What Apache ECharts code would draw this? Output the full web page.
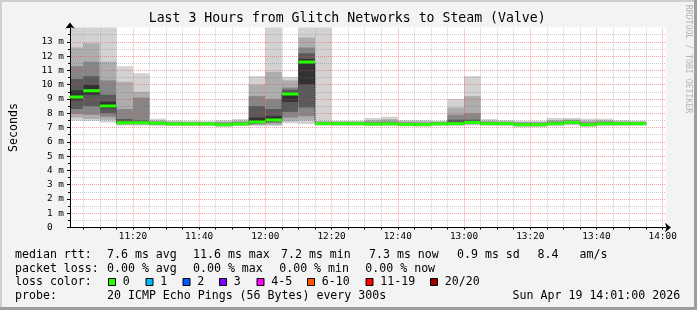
<!DOCTYPE html>
<html><head><meta charset="utf-8">
<script src="https://cdn.jsdelivr.net/npm/echarts@6/dist/echarts.min.js"></script>
<style>html,body{margin:0;padding:0;background:#f3f3f3}#c{width:697px;height:310px}</style>
</head><body><div id="c"></div>
<script>
// ---------------- DATA ----------------
const titleText = 'Last 3 Hours from Glitch Networks to Steam (Valve)';
const viewStart = '11:01';
const viewEnd = '14:01';
const stepMinutes = 5;
const slotStart = ['11:00','11:05','11:10','11:15','11:20','11:25','11:30','11:35','11:40','11:45','11:50','11:55',
  '12:00','12:05','12:10','12:15','12:20','12:25','12:30','12:35','12:40','12:45','12:50','12:55',
  '13:00','13:05','13:10','13:15','13:20','13:25','13:30','13:35','13:40','13:45','13:50'];
const medianRtt = [9.14,9.58,8.51,7.34,7.34,7.30,7.25,7.25,7.25,7.20,7.25,7.39,
  7.53,9.35,11.59,7.27,7.27,7.27,7.24,7.26,7.22,7.21,7.26,7.27,
  7.36,7.27,7.27,7.20,7.20,7.27,7.36,7.20,7.27,7.27,7.27];
const lossCount = [0,0,0,0,0,0,0,0,0,0,0,0,0,0,0,0,0,0,0,0,0,0,0,0,0,0,0,0,0,0,0,0,0,0,0];
// sorted ping rtt (ms) of the 20 pings, selected ranks
const pingP1  = [7.48,7.45,7.35,7.15,7.15,7.12,7.10,7.10,7.10,7.05,7.10,7.10,7.10,7.30,7.25,7.15,7.12,7.12,7.10,7.10,7.08,7.06,7.10,7.10,7.15,7.12,7.10,7.02,7.02,7.10,7.15,7.05,7.10,7.10,7.12];
const pingP3  = [7.70,7.60,7.55,7.20,7.20,7.17,7.15,7.15,7.15,7.10,7.15,7.18,7.20,7.45,7.50,7.20,7.18,7.18,7.16,7.17,7.14,7.12,7.17,7.18,7.22,7.18,7.18,7.10,7.10,7.17,7.22,7.10,7.17,7.18,7.18];
const pingP5  = [7.95,7.90,7.75,7.24,7.24,7.21,7.18,7.18,7.18,7.13,7.18,7.24,7.30,7.70,7.80,7.22,7.21,7.21,7.19,7.20,7.17,7.15,7.20,7.21,7.27,7.21,7.21,7.14,7.14,7.21,7.27,7.14,7.21,7.21,7.21];
const pingP7  = [8.30,8.50,8.00,7.28,7.28,7.25,7.21,7.21,7.21,7.16,7.21,7.30,7.40,8.10,8.40,7.24,7.24,7.24,7.21,7.23,7.19,7.18,7.23,7.24,7.31,7.24,7.24,7.17,7.17,7.24,7.31,7.17,7.24,7.24,7.24];
const pingP9  = [8.90,9.30,8.35,7.32,7.32,7.28,7.23,7.23,7.23,7.18,7.23,7.35,7.48,8.80,10.00,7.26,7.25,7.25,7.22,7.24,7.20,7.19,7.24,7.25,7.34,7.25,7.25,7.18,7.18,7.25,7.34,7.18,7.25,7.25,7.25];
const pingP12 = [9.60,10.00,8.80,7.38,7.36,7.33,7.28,7.28,7.28,7.25,7.28,7.70,7.80,9.45,11.80,7.30,7.30,7.30,7.27,7.29,7.25,7.24,7.29,7.30,7.40,7.30,7.30,7.23,7.23,7.30,7.39,7.23,7.30,7.30,7.30];
const pingP14 = [10.40,10.60,9.30,7.60,7.50,7.37,7.31,7.31,7.31,7.30,7.32,8.50,8.30,9.65,12.20,7.35,7.34,7.34,7.32,7.34,7.30,7.29,7.33,7.55,7.55,7.34,7.34,7.28,7.28,7.35,7.43,7.28,7.35,7.34,7.34];
const pingP16 = [11.30,11.60,10.30,8.30,9.10,7.42,7.35,7.34,7.34,7.35,7.38,9.20,9.00,9.80,12.60,7.38,7.38,7.38,7.40,7.42,7.35,7.34,7.38,7.90,8.00,7.40,7.38,7.33,7.33,7.42,7.50,7.36,7.42,7.38,7.38];
const pingP18 = [12.60,12.90,11.60,10.20,9.50,7.50,7.42,7.40,7.38,7.42,7.48,10.00,10.90,10.30,13.30,7.45,7.43,7.43,7.52,7.58,7.44,7.43,7.42,8.40,9.20,7.48,7.44,7.40,7.40,7.52,7.56,7.48,7.50,7.44,7.42];
const pingP20 = [14.50,14.20,14.00,11.30,10.80,7.62,7.50,7.48,7.45,7.52,7.60,10.60,14.30,10.55,14.10,14.50,7.48,7.48,7.67,7.76,7.53,7.53,7.48,9.00,10.60,7.60,7.53,7.48,7.48,7.67,7.67,7.62,7.62,7.53,7.48];
const xTickLabels = ['11:20','11:40','12:00','12:20','12:40','13:00','13:20','13:40','14:00'];
const yMin = 0, yMax = 14, yStep = 1;
const yAxisName = 'Seconds';
const lossLabels = ['0','1','2','3','4-5','6-10','11-19','20/20'];
const lossColors = ['#26ff00','#00b8ff','#0059ff','#7e00ff','#ff00ff','#ff5500','#ff0000','#a00000'];
const lossUpper = [0,1,2,3,5,10,19,20];
const rowMedian = ['median rtt:','7.6 ms avg','11.6 ms max','7.2 ms min','7.3 ms now','0.9 ms sd','8.4','am/s'];
const rowLoss = ['packet loss:','0.00 % avg','0.00 % max','0.00 % min','0.00 % now'];
const rowLossColor = 'loss color:';
const rowProbe = ['probe:','20 ICMP Echo Pings (56 Bytes) every 300s','Sun Apr 19 14:01:00 2026'];
const watermark = 'RRDTOOL / TOBI OETIKER';

// ---------------- LAYOUT / STYLE ----------------
const FONT = '"DejaVu Sans Mono", monospace';
const bandColors = ['#d2d2d2','#adadad','#868686','#5a5a5a','#323232'];
const majorGrid = 'rgba(235,70,70,0.5)';
const minorGrid = 'rgba(110,110,110,0.35)';
const toMin = s => { const p = s.split(':').map(Number); return p[0]*60 + p[1]; };
const fmtMin = v => { const h = Math.floor(v/60), m = v%60; return h + ':' + (m<10?'0':'') + m; };
const xMin = toMin(viewStart), xMax = toMin(viewEnd);

const lossColorOf = n => { for (let i=0;i<lossUpper.length;i++) if (n <= lossUpper[i]) return lossColors[i]; return lossColors[lossColors.length-1]; };

const smokeData = slotStart.map((s,i) => [toMin(s), toMin(s)+stepMinutes,
  pingP1[i],pingP3[i],pingP5[i],pingP7[i],pingP9[i],pingP12[i],pingP14[i],pingP16[i],pingP18[i],pingP20[i]]);
const medianData = slotStart.map((s,i) => [toMin(s), toMin(s)+stepMinutes, medianRtt[i], lossCount[i]]);
const stepData = slotStart.map((s,i) => [toMin(s), medianRtt[i]]);
stepData.push([toMin(slotStart[slotStart.length-1]) + stepMinutes, medianRtt[medianRtt.length-1]]);

const gridMarks = [];
for (let t = Math.ceil(xMin/5)*5; t <= xMax; t += 5) {
  gridMarks.push({xAxis: t, lineStyle: {color: (t % 20 === 0) ? majorGrid : minorGrid, type: [1,1], width: 1}});
}
const minorTickVals = [];
for (let t = Math.ceil(xMin/5)*5; t <= xMax; t += 5) minorTickVals.push(t);

function clipTo(rect, cs) {
  return echarts.graphic.clipRectByRect(rect, {x: cs.x, y: cs.y, width: cs.width, height: cs.height});
}
function renderSmoke(params, api) {
  const cs = params.coordSys;
  const x0 = api.value(0), x1 = api.value(1);
  const children = [];
  for (let k = 0; k < 5; k++) {
    const lo = api.value(2+k), hi = api.value(11-k);
    const a = api.coord([x0, hi]), b = api.coord([x1, lo]);
    const r = clipTo({x: a[0], y: a[1], width: b[0]-a[0], height: b[1]-a[1]}, cs);
    if (r) children.push({type: 'rect', shape: r, style: {fill: bandColors[k]}});
  }
  return {type: 'group', children};
}
function renderMedian(params, api) {
  const cs = params.coordSys;
  const a = api.coord([api.value(0), api.value(2)]), b = api.coord([api.value(1), api.value(2)]);
  const x0 = Math.max(a[0], cs.x), x1 = Math.min(b[0], cs.x + cs.width);
  return {type: 'line', shape: {x1: x0, y1: a[1], x2: x1, y2: b[1]},
    style: {stroke: lossColorOf(api.value(3)), lineWidth: 3}};
}

// ---------------- GRAPHICS (frame, title, legend) ----------------
const g = [];
g.push({type:'rect', silent:true, shape:{x:0,y:0,width:697,height:2}, style:{fill:'#cfcfcf'}});
g.push({type:'rect', silent:true, shape:{x:0,y:0,width:2,height:310}, style:{fill:'#cfcfcf'}});
g.push({type:'rect', silent:true, shape:{x:0,y:307,width:697,height:3}, style:{fill:'#9e9e9e'}});
g.push({type:'rect', silent:true, shape:{x:694,y:0,width:3,height:310}, style:{fill:'#9e9e9e'}});
g.push({type:'text', x:347.2, y:18.7, style:{text:titleText, font:'13.2px '+FONT, fill:'#000', align:'center', verticalAlign:'middle'}});
g.push({type:'text', x:688, y:59, rotation:-Math.PI/2, style:{text:watermark, font:'8.2px '+FONT, fill:'#b4b4b4', align:'center', verticalAlign:'middle'}});
const txt = (x, y, s) => g.push({type:'text', x, y, style:{text:s, font:'11.6px '+FONT, fill:'#000', align:'left', verticalAlign:'middle'}});
const row1X = [15, 107, 193, 281, 369, 457, 537.5, 579.5];
rowMedian.forEach((s,i) => txt(row1X[i], 255, s));
const row2X = [15, 107, 193, 279.2, 365.3];
rowLoss.forEach((s,i) => txt(row2X[i], 268.7, s));
txt(15, 282.3, rowLossColor);
const swatchX = [108, 145.5, 182.5, 219, 256.5, 307, 365.5, 430];
lossLabels.forEach((s,i) => {
  g.push({type:'rect', shape:{x:swatchX[i]+0.5, y:278.5, width:7, height:7}, style:{fill:lossColors[i], stroke:'#000', lineWidth:1}});
  txt(swatchX[i]+14.8, 282.3, s);
});
const row4X = [15, 107, 512.6];
rowProbe.forEach((s,i) => txt(row4X[i], 296, s));

// ---------------- CHART ----------------
const chart = echarts.init(document.getElementById('c'), null, {renderer:'canvas'});
chart.setOption({
  animation: false,
  backgroundColor: '#f3f3f3',
  grid: {left: 66, right: 31, top: 27.6, bottom: 82.5, show: true, backgroundColor: '#ffffff', borderWidth: 0},
  xAxis: {
    type: 'value', min: xMin, max: xMax, z: 2,
    axisLine: {show: true, onZero: false, lineStyle: {color: '#000', width: 1}, symbol: ['none','arrow'], symbolSize: [7,6], symbolOffset: [0,5]},
    axisTick: {show: true, customValues: minorTickVals, length: 2, lineStyle: {color: '#000'}},
    axisLabel: {customValues: xTickLabels.map(toMin), formatter: v => fmtMin(v), fontFamily: FONT, fontSize: 9.4, color: '#000', margin: 5},
    splitLine: {show: false}
  },
  yAxis: {
    type: 'value', min: yMin, max: yMax, interval: yStep, z: 2,
    name: yAxisName, nameLocation: 'middle', nameGap: 50, nameRotate: 90,
    nameTextStyle: {fontFamily: FONT, fontSize: 11.6, color: '#000'},
    axisLine: {show: true, lineStyle: {color: '#000', width: 1}, symbol: ['none','arrow'], symbolSize: [7,6], symbolOffset: [0,5]},
    axisTick: {show: true, length: 3, lineStyle: {color: '#000'}},
    minorTick: {show: true, splitNumber: 2, length: 2, lineStyle: {color: '#000'}},
    axisLabel: {formatter: v => v === yMax ? '' : (v === 0 ? '0  ' : v + ' m'), fontFamily: FONT, fontSize: 9.4, color: '#000', margin: 6},
    splitLine: {show: true, showMinLine: false, showMaxLine: false, lineStyle: {color: majorGrid, type: [1,1], width: 1}},
    minorSplitLine: {show: true, lineStyle: {color: minorGrid, type: [1,1], width: 1}}
  },
  series: [
    {type: 'custom', name: 'smoke', z: 1, renderItem: renderSmoke, data: smokeData, encode: {x: [0,1], y: [2,11]}, silent: true},
    {type: 'line', name: 'median step', z: 2, step: 'end', data: stepData, showSymbol: false, symbol: 'none',
      lineStyle: {color: '#202020', width: 1, type: [1,1]}, silent: true,
      markLine: {silent: true, symbol: ['none','none'], label: {show: false}, data: gridMarks, animation: false}},
    {type: 'custom', name: 'median', z: 3, renderItem: renderMedian, data: medianData, encode: {x: [0,1], y: 2}, silent: true}
  ],
  graphic: g
});
</script></body></html>
